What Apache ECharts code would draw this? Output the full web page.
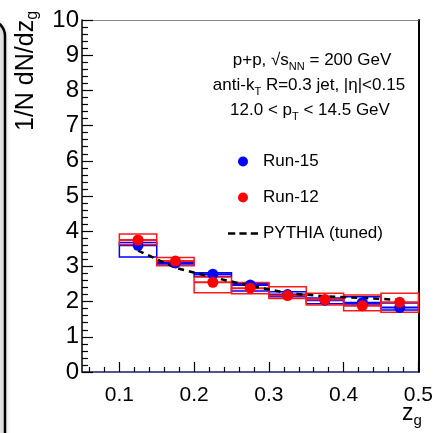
<!DOCTYPE html>
<html>
<head>
<meta charset="utf-8">
<script src="https://cdn.jsdelivr.net/npm/echarts@6/dist/echarts.min.js"></script>
<style>
  html, body { margin: 0; padding: 0; background: #fff; }
  #chart { width: 436px; height: 433px; }
</style>
</head>
<body>
<div id="chart"></div>
<script>
// z_g bin centres (bins are 0.05 wide)
const zgCenters = [0.125, 0.175, 0.225, 0.275, 0.325, 0.375, 0.425, 0.475];
const binHalfWidth = 0.025;

// Run-15 (blue)
const run15 = [3.60, 3.10, 2.78, 2.47, 2.20, 2.04, 1.97, 1.83];
const run15SysLo = [3.27, 3.04, 2.71, 2.30, 2.14, 1.94, 1.93, 1.76];
const run15SysHi = [3.68, 3.15, 2.82, 2.52, 2.28, 2.10, 2.14, 1.96];

// Run-12 (red)
const run12 = [3.75, 3.15, 2.55, 2.38, 2.17, 2.06, 1.88, 1.98];
const run12SysLo = [3.62, 3.02, 2.25, 2.22, 2.09, 1.90, 1.74, 1.70];
const run12SysHi = [3.92, 3.25, 2.70, 2.54, 2.42, 2.24, 2.19, 2.24];

// PYTHIA (tuned)
const pythia = [3.45, 2.96, 2.69, 2.45, 2.24, 2.15, 2.10, 2.05];

const xTickLabels = [0.1, 0.2, 0.3, 0.4, 0.5];
const xMinorTicks = [0.06, 0.08, 0.12, 0.14, 0.16, 0.18, 0.22, 0.24, 0.26, 0.28,
    0.32, 0.34, 0.36, 0.38, 0.42, 0.44, 0.46, 0.48];

const FONT = 'Liberation Sans, Arial, sans-serif';

function boxData(vals, lo, hi) {
    return zgCenters.map((x, i) => [x, vals[i], lo[i], hi[i]]);
}

function boxRenderer(color) {
    return function (params, api) {
        const x = api.value(0);
        const a = api.coord([x - binHalfWidth, api.value(3)]);
        const b = api.coord([x + binHalfWidth, api.value(2)]);
        const m1 = api.coord([x - binHalfWidth, api.value(1)]);
        const m2 = api.coord([x + binHalfWidth, api.value(1)]);
        return {
            type: 'group',
            children: [
                {
                    type: 'rect',
                    shape: { x: a[0], y: a[1], width: b[0] - a[0], height: b[1] - a[1] },
                    style: { fill: 'none', stroke: color, lineWidth: 1.5 }
                },
                {
                    type: 'line',
                    shape: { x1: m1[0], y1: m1[1], x2: m2[0], y2: m2[1] },
                    style: { stroke: color, lineWidth: 2 }
                }
            ]
        };
    };
}

// small helper for text with subscripts
function subRich(size, subSize, drop) {
    return {
        m: { fontSize: size, fontFamily: FONT, fill: '#000', lineHeight: size, verticalAlign: 'top' },
        s: { fontSize: subSize, fontFamily: FONT, fill: '#000', lineHeight: subSize, verticalAlign: 'top', padding: [drop, 0, 0, 0] }
    };
}

const chart = echarts.init(document.getElementById('chart'), null, { renderer: 'canvas' });

const option = {
    animation: false,
    backgroundColor: '#fff',
    grid: { left: 82, right: 17, top: 20, bottom: 61 },
    legend: {
        orient: 'vertical',
        left: 223,
        top: 148,
        itemWidth: 30,
        itemHeight: 10,
        itemGap: 19,
        selectedMode: false,
        textStyle: { fontSize: 17, color: '#000', fontFamily: FONT },
        data: [
            { name: 'Run-15', icon: 'circle' },
            { name: 'Run-12', icon: 'circle' },
            { name: 'PYTHIA (tuned)', icon: 'path://M0,0h7v2.5h-7z M11,0h7v2.5h-7z M22,0h7v2.5h-7z' }
        ]
    },
    xAxis: [
        {
            type: 'value', min: 0.05, max: 0.5,
            axisLine: { lineStyle: { color: '#1c1c6e', width: 1.5 } },
            axisTick: { customValues: xTickLabels, inside: true, length: 10, lineStyle: { color: '#000', width: 1.2 } },
            axisLabel: {
                customValues: xTickLabels, margin: 13, fontSize: 21, color: '#000', fontFamily: FONT,
                formatter: v => v.toFixed(1)
            },
            splitLine: { show: false }
        },
        {
            type: 'value', min: 0.05, max: 0.5, position: 'bottom',
            axisLine: { show: false },
            axisTick: { customValues: xMinorTicks, inside: true, length: 5, lineStyle: { color: '#000', width: 1.2 } },
            axisLabel: { show: false },
            splitLine: { show: false }
        },
        {
            type: 'value', min: 0.05, max: 0.5, position: 'top',
            axisLine: { lineStyle: { color: '#888', width: 1 } },
            axisTick: { show: false }, axisLabel: { show: false }, splitLine: { show: false }
        }
    ],
    yAxis: [
        {
            type: 'value', min: 0, max: 10, interval: 1,
            axisLine: { show: true, lineStyle: { color: '#000', width: 1.5 } },
            axisTick: { inside: true, length: 11, lineStyle: { color: '#000', width: 1.2 } },
            minorTick: { show: true, splitNumber: 5, length: 6, lineStyle: { color: '#000', width: 1.2 } },
            axisLabel: { margin: 3, fontSize: 24, color: '#000', fontFamily: FONT },
            splitLine: { show: false }
        },
        {
            type: 'value', min: 0, max: 10, position: 'right',
            axisLine: { show: true, lineStyle: { color: '#000', width: 2 } },
            axisTick: { show: false }, axisLabel: { show: false }, splitLine: { show: false }
        }
    ],
    series: [
        {
            name: 'Run-15 sys', type: 'custom', z: 2,
            renderItem: boxRenderer('#0000ff'),
            data: boxData(run15, run15SysLo, run15SysHi)
        },
        {
            name: 'Run-12 sys', type: 'custom', z: 2,
            renderItem: boxRenderer('#ff1a1a'),
            data: boxData(run12, run12SysLo, run12SysHi)
        },
        {
            name: 'PYTHIA (tuned)', type: 'line', z: 3,
            symbol: 'none',
            lineStyle: { color: '#000', width: 2.5, type: [6, 5] },
            itemStyle: { color: '#000' },
            data: zgCenters.map((x, i) => [x, pythia[i]])
        },
        {
            name: 'Run-15', type: 'scatter', z: 4,
            symbolSize: 11,
            itemStyle: { color: '#0000ff', opacity: 1 },
            data: zgCenters.map((x, i) => [x, run15[i]])
        },
        {
            name: 'Run-12', type: 'scatter', z: 5,
            symbolSize: 11,
            itemStyle: { color: '#ff0000', opacity: 1 },
            data: zgCenters.map((x, i) => [x, run12[i]])
        }
    ],
    graphic: [
        // slide frame edge on the left
        {
            type: 'rect', z: 0,
            shape: { x: -300, y: 20, width: 305, height: 800, r: 16 },
            style: { fill: 'none', stroke: '#000', lineWidth: 2.5, shadowBlur: 6, shadowColor: 'rgba(0,0,0,0.45)', shadowOffsetX: -2 }
        },
        {
            type: 'text', x: 14, y: 131, rotation: Math.PI / 2,
            style: {
                text: '{m|1/N dN/dz}{s|g}',
                textAlign: 'left', textVerticalAlign: 'top',
                rich: subRich(25, 16, 11)
            }
        },
        {
            type: 'text', x: 402, y: 402,
            style: { text: '{m|z}{s|g}', rich: subRich(23, 15, 11) }
        },
        {
            type: 'text', x: 312, y: 52,
            style: {
                text: '{m|p+p, √s}{s|NN}{m| = 200 GeV}',
                textAlign: 'center',
                rich: subRich(17, 11, 9)
            }
        },
        {
            type: 'text', x: 309, y: 77,
            style: {
                text: '{m|anti-k}{s|T}{m| R=0.3 jet, |η|<0.15}',
                textAlign: 'center',
                rich: subRich(17, 11, 9)
            }
        },
        {
            type: 'text', x: 310, y: 102,
            style: {
                text: '{m|12.0 < p}{s|T}{m| < 14.5 GeV}',
                textAlign: 'center',
                rich: subRich(17, 11, 9)
            }
        }
    ]
};

chart.setOption(option);
window.addEventListener('resize', () => chart.resize());
</script>
</body>
</html>
